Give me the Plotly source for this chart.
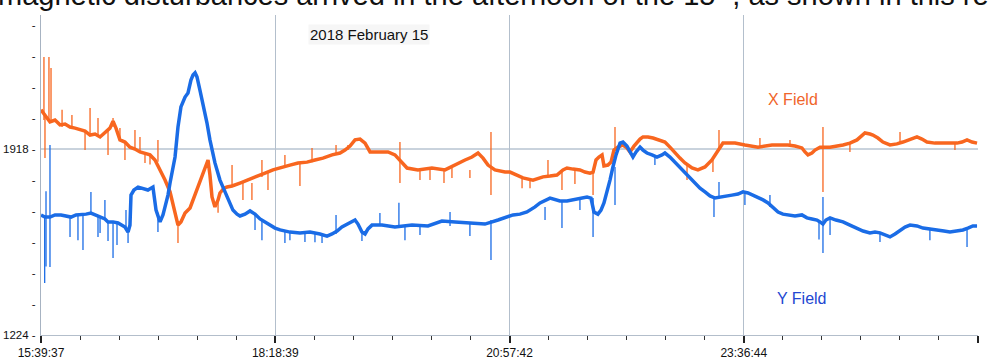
import pandas as pd
import plotly.graph_objects as go

START = pd.Timestamp("2018-02-15 15:39:37")
END = pd.Timestamp("2018-02-16 02:15:46")

# X field (orange): minutes after start, field value
x_minutes = [0, 2.7, 6.1, 9.5, 12.9, 16.3, 19.7, 23.1, 26.5, 29.9,
             33.3, 36.7, 40.1, 43.4, 46.8, 48.9, 50.9, 53.6, 57.0, 60.4,
             63.8, 67.2, 70.6, 74.0, 77.4, 80.8, 84.2, 87.6, 91.0, 93.0,
             95.0, 97.8, 101.2, 104.6, 107.9, 110.7, 113.4, 114.7, 116.1, 118.1,
             120.2, 121.5, 124.2, 126.3, 129.7, 135.1, 140.5, 146.6, 152.1, 157.5,
             163.6, 169.0, 174.5, 180.6, 186.0, 191.4, 197.6, 203.0, 206.4, 209.8,
             213.2, 216.6, 220.0, 223.4, 228.8, 235.6, 240.3, 245.1, 248.5, 255.9,
             265.4, 274.3, 283.1, 287.9, 292.6, 296.7, 300.1, 303.5, 308.2, 315.0,
             318.4, 323.2, 327.2, 334.0, 340.8, 345.6, 350.3, 354.4, 357.1, 361.2,
             365.9, 369.3, 372.7, 374.8, 376.8, 378.8, 380.9, 382.2, 384.9, 387.0,
             389.0, 391.7, 395.1, 397.8, 399.9, 402.6, 404.6, 406.7, 408.7, 412.1,
             415.5, 420.2, 423.6, 427.0, 430.4, 433.8, 437.2, 442.0, 446.0, 450.8,
             455.5, 459.6, 463.0, 467.1, 471.2, 477.9, 486.8, 496.3, 507.1, 511.9,
             516.6, 518.7, 520.7, 523.4, 525.5, 528.9, 535.7, 544.5, 549.2, 554.0,
             557.4, 559.4, 562.8, 564.8, 568.2, 571.6, 576.4, 581.1, 585.2, 590.0,
             594.7, 598.1, 601.5, 606.9, 612.4, 617.1, 621.9, 625.3, 628.7, 632.1, 635.5]
x_field = [2064, 2045, 2019, 2026, 2008, 2011, 2000, 1996, 1989, 1985,
           1970, 1974, 1963, 1978, 1996, 2022, 1996, 1952, 1944, 1925,
           1918, 1907, 1903, 1896, 1877, 1840, 1802, 1758, 1672, 1634,
           1646, 1679, 1698, 1746, 1795, 1832, 1877, 1821, 1739, 1702,
           1728, 1754, 1772, 1776, 1780, 1791, 1802, 1814, 1828, 1840,
           1851, 1858, 1866, 1869, 1877, 1884, 1896, 1903, 1914, 1929,
           1952, 1955, 1940, 1907, 1907, 1907, 1896, 1866, 1847, 1840,
           1847, 1840, 1866, 1877, 1888, 1903, 1884, 1858, 1840, 1832,
           1832, 1821, 1810, 1802, 1814, 1817, 1821, 1840, 1847, 1843,
           1840, 1832, 1828, 1832, 1877, 1888, 1896, 1855, 1858, 1869,
           1914, 1925, 1933, 1922, 1907, 1929, 1944, 1955, 1963, 1963,
           1959, 1952, 1944, 1925, 1903, 1884, 1866, 1847, 1840, 1851,
           1877, 1914, 1940, 1940, 1940, 1933, 1925, 1933, 1933, 1929,
           1922, 1907, 1896, 1903, 1914, 1925, 1925, 1933, 1940, 1952,
           1966, 1978, 1974, 1970, 1959, 1944, 1933, 1937, 1944, 1955,
           1963, 1955, 1944, 1940, 1940, 1937, 1940, 1944, 1952, 1944, 1940]

# Y field (blue)
y_minutes = [0, 2.7, 6.1, 9.5, 13.6, 17.0, 20.4, 23.8, 27.2, 30.6,
             33.9, 37.3, 40.7, 43.4, 45.5, 48.9, 52.3, 55.0, 57.0, 59.1,
             60.4, 61.1, 63.1, 65.9, 69.2, 72.6, 76.0, 78.1, 80.8, 82.8,
             84.2, 86.2, 87.6, 89.6, 91.0, 93.0, 95.0, 97.8, 99.8, 101.8,
             103.2, 104.6, 105.9, 107.9, 110.0, 111.3, 112.7, 114.7, 116.1, 118.1,
             121.5, 124.2, 126.3, 128.3, 130.3, 133.1, 135.1, 138.5, 141.9, 145.3,
             148.7, 152.1, 155.5, 158.9, 162.3, 169.0, 175.8, 182.6, 189.4, 194.2,
             197.6, 201.0, 204.3, 207.7, 211.1, 213.2, 215.2, 217.9, 220.0, 222.0,
             224.7, 231.5, 240.3, 251.9, 262.7, 272.2, 281.1, 292.6, 301.4, 310.3,
             315.0, 320.5, 325.2, 329.9, 335.4, 338.8, 345.6, 352.3, 357.1, 361.2,
             365.9, 370.7, 373.4, 375.4, 378.1, 380.2, 382.2, 384.3, 386.3, 388.3,
             390.4, 393.1, 395.1, 397.8, 399.9, 401.9, 404.0, 406.7, 408.7, 411.4,
             414.8, 418.2, 421.6, 423.6, 427.0, 430.4, 433.8, 437.2, 440.6, 444.0,
             447.4, 450.8, 454.2, 457.6, 461.0, 464.4, 469.1, 473.2, 476.6, 480.0,
             483.4, 486.8, 490.2, 493.6, 497.0, 500.4, 503.7, 507.1, 511.9, 516.6,
             520.0, 523.4, 526.8, 528.9, 530.9, 532.9, 535.7, 539.7, 544.5, 549.2,
             554.0, 558.1, 562.8, 566.2, 569.6, 573.0, 576.4, 579.8, 583.2, 586.6,
             590.0, 594.7, 598.8, 603.5, 608.3, 613.0, 617.1, 621.9, 625.9, 629.3,
             632.7, 635.5]
y_field = [1672, 1664, 1664, 1672, 1672, 1668, 1664, 1672, 1672, 1675,
           1679, 1672, 1664, 1657, 1646, 1646, 1642, 1634, 1627, 1608,
           1634, 1746, 1765, 1776, 1772, 1765, 1776, 1690, 1646, 1672,
           1702, 1746, 1791, 1840, 1888, 2000, 2075, 2112, 2127, 2175,
           2194, 2202, 2187, 2138, 2090, 2052, 2015, 1952, 1914, 1866,
           1802, 1765, 1739, 1717, 1690, 1675, 1668, 1675, 1687, 1675,
           1657, 1646, 1634, 1623, 1616, 1608, 1605, 1608, 1601, 1593,
           1601, 1612, 1627, 1638, 1649, 1653, 1638, 1608, 1601, 1620,
           1634, 1634, 1627, 1634, 1631, 1649, 1646, 1642, 1638, 1653,
           1661, 1672, 1675, 1683, 1702, 1717, 1735, 1724, 1724, 1728,
           1731, 1739, 1735, 1683, 1675, 1690, 1717, 1758, 1802, 1851,
           1896, 1940, 1944, 1929, 1907, 1888, 1907, 1925, 1914, 1903,
           1896, 1888, 1896, 1903, 1888, 1869, 1851, 1828, 1810, 1791,
           1772, 1758, 1743, 1735, 1739, 1743, 1746, 1750, 1758, 1754,
           1746, 1739, 1728, 1717, 1702, 1683, 1675, 1672, 1668, 1672,
           1661, 1657, 1653, 1646, 1638, 1653, 1661, 1653, 1646, 1634,
           1623, 1612, 1605, 1608, 1605, 1597, 1590, 1601, 1616, 1627,
           1634, 1631, 1623, 1620, 1616, 1612, 1608, 1612, 1616, 1623,
           1631, 1631]

# Short spikes in each record: minute, low value, high value
x_spike_min = [2.0, 2.7, 5.4, 6.8, 14.3, 21.0, 29.9, 33.3, 38.7, 45.5, 48.9, 53.6,
               57.0, 63.8, 67.2, 70.6, 74.0, 79.4, 93.0, 120.2, 129.7, 137.1, 143.2,
               150.0, 154.1, 165.6, 175.8, 184.0, 200.3, 208.4, 243.7, 257.3, 264.1,
               273.6, 279.0, 291.2, 305.5, 326.6, 332.0, 344.2, 353.7, 362.5, 374.8,
               389.7, 438.6, 456.2, 460.3, 488.1, 508.5, 530.9, 549.2, 583.2, 620.5]
x_spike_low = [2026, 1884, 2019, 2015, 2000, 1996, 1914, 1970, 1963, 1896, 2000, 1952,
               1877, 1918, 1907, 1866, 1860, 1870, 1567, 1680, 1780, 1728, 1728,
               1814, 1765, 1851, 1780, 1869, 1903, 1914, 1791, 1802, 1802,
               1791, 1810, 1810, 1746, 1772, 1772, 1814, 1765, 1787, 1746,
               1914, 1802, 1832, 1914, 1925, 1933, 1758, 1907, 1944, 1914]
x_spike_high = [2261, 2045, 2261, 2220, 2064, 2045, 1985, 2071, 2034, 1990, 2034, 1996,
                1944, 1989, 1963, 1903, 1896, 1952, 1640, 1728, 1858, 1791, 1791,
                1877, 1828, 1896, 1866, 1922, 1933, 1933, 1944, 1840, 1847,
                1840, 1847, 1840, 1981, 1810, 1810, 1877, 1840, 1843, 1832,
                2000, 1866, 1877, 1989, 1959, 1952, 2000, 1940, 1981, 1940]

y_spike_min = [2.5, 3.4, 6.1, 19.7, 25.1, 28.5, 33.9, 38.7, 40.1, 43.4, 45.5, 48.9,
               51.6, 57.7, 59.1, 79.4, 145.3, 150.0, 165.6, 169.0, 179.2, 186.0,
               190.8, 200.3, 217.9, 230.1, 243.0, 247.1, 257.3, 277.7, 291.2, 305.5,
               342.2, 353.7, 365.9, 374.8, 389.7, 416.8, 456.9, 460.3, 477.9, 494.9,
               528.2, 530.9, 535.7, 569.6, 603.5, 628.7]
y_spike_low = [1418, 1480, 1478, 1590, 1578, 1541, 1672, 1590, 1605, 1657, 1575, 1511,
               1560, 1627, 1567, 1608, 1616, 1578, 1567, 1578, 1571, 1570,
               1567, 1601, 1575, 1634, 1634, 1578, 1597, 1631, 1593, 1504,
               1653, 1623, 1690, 1590, 1709, 1858, 1664, 1743, 1709, 1702,
               1580, 1530, 1597, 1571, 1578, 1552]
y_spike_high = [1672, 1760, 1933, 1664, 1672, 1672, 1758, 1672, 1664, 1728, 1646, 1646,
                1642, 1690, 1608, 1680, 1675, 1657, 1608, 1608, 1608, 1608,
                1601, 1672, 1608, 1679, 1717, 1634, 1634, 1683, 1642, 1653,
                1702, 1724, 1731, 1735, 1851, 1896, 1743, 1795, 1758, 1746,
                1653, 1739, 1661, 1605, 1620, 1623]

tick_times = ["2018-02-15 15:39:37", "2018-02-15 18:18:39", "2018-02-15 20:57:42",
              "2018-02-15 23:36:44", "2018-02-16 02:15:46"]
tick_labels = ["15:39:37", "18:18:39", "20:57:42", "23:36:44", "02:15:46"]
y_min, y_ref = 1224, 1918
y_top = 2418

ORANGE = "#F8661F"
BLUE = "#1A6CE6"
FONT = "Liberation Sans, Arial, sans-serif"


def to_time(mins):
    return START + pd.to_timedelta(mins, unit="min")


def spike_xy(mins, lows, highs):
    xs, ys = [], []
    for m, lo, hi in zip(mins, lows, highs):
        t = to_time(m)
        xs += [t, t, None]
        ys += [lo, hi, None]
    return xs, ys


fig = go.Figure()
fig.add_trace(go.Scatter(x=[to_time(m) for m in x_minutes], y=x_field, mode="lines",
                         line=dict(color=ORANGE, width=3.5), name="X Field", hoverinfo="skip"))
sx, sy = spike_xy(x_spike_min, x_spike_low, x_spike_high)
fig.add_trace(go.Scatter(x=sx, y=sy, mode="lines", line=dict(color=ORANGE, width=1.3),
                         name="X spikes", hoverinfo="skip"))
fig.add_trace(go.Scatter(x=[to_time(m) for m in y_minutes], y=y_field, mode="lines",
                         line=dict(color=BLUE, width=3.5), name="Y Field", hoverinfo="skip"))
sx, sy = spike_xy(y_spike_min, y_spike_low, y_spike_high)
fig.add_trace(go.Scatter(x=sx, y=sy, mode="lines", line=dict(color=BLUE, width=1.3),
                         name="Y spikes", hoverinfo="skip"))

# y ticks every sixth of the 1224-1918 span
step = (y_ref - y_min) / 6
y_tickvals = [y_min + k * step for k in range(11)]
y_ticktext = ["1224 -" if k == 0 else ("1918 -" if k == 6 else "-") for k in range(11)]

interval = (pd.Timestamp(tick_times[1]) - pd.Timestamp(tick_times[0])) / 6
minor_vals = [START + k * interval for k in range(25)]

fig.add_shape(type="line", xref="paper", x0=0, x1=1, yref="y", y0=y_ref, y1=y_ref,
              line=dict(color="#93A6BA", width=1), layer="below")

fig.update_layout(
    width=997, height=360,
    margin=dict(l=41, r=19, t=15, b=25, autoexpand=False),
    paper_bgcolor="white", plot_bgcolor="white",
    showlegend=False,
    font=dict(family=FONT, color="#111111"),
    xaxis=dict(
        type="date", range=[START, END], automargin=False,
        tickmode="array", tickvals=tick_times, ticktext=tick_labels,
        ticks="outside", ticklen=7, tickwidth=1.5, tickcolor="#222222",
        tickfont=dict(size=12, family=FONT, color="#111111"),
        showgrid=True, gridcolor="#B3BFCC", gridwidth=1,
        showline=True, linecolor="#B3BECB", linewidth=1,
        zeroline=False,
        minor=dict(tickmode="array", tickvals=minor_vals, ticks="outside", ticklen=4,
                   tickwidth=1.3, tickcolor="#333333", showgrid=False),
    ),
    yaxis=dict(
        range=[y_min, y_top], automargin=False,
        tickmode="array", tickvals=y_tickvals, ticktext=y_ticktext,
        ticks="", tickfont=dict(size=11.5, family=FONT, color="#111111"),
        showgrid=False, showline=True, linecolor="#A7B3C2", linewidth=1,
        zeroline=False, ticklabelstandoff=2,
    ),
    annotations=[
        dict(text="magnetic disturbances arrived in the afternoon of the 15<sup>th</sup>, as shown in this re",
             xref="paper", yref="paper", x=-0.048, y=1.006, xanchor="left", yanchor="bottom",
             showarrow=False, font=dict(size=29, family=FONT, color="#111111")),
        dict(text="2018 February 15", xref="x", yref="paper",
             x=to_time(222.5), y=0.94, xanchor="center", yanchor="middle",
             showarrow=False, bgcolor="#F6F6F6",
             font=dict(size=15, family=FONT, color="#111111")),
        dict(text="X Field", xref="x", yref="y", x=to_time(510.5), y=2101,
             xanchor="center", yanchor="middle", showarrow=False,
             font=dict(size=16, family=FONT, color="#F0652A")),
        dict(text="Y Field", xref="x", yref="y", x=to_time(516.5), y=1361,
             xanchor="center", yanchor="middle", showarrow=False,
             font=dict(size=16, family=FONT, color="#2347D2")),
    ],
)

fig.write_html("out.html", config={"displayModeBar": False},
               post_script="document.body.style.margin='0';document.body.style.overflow='hidden';")
